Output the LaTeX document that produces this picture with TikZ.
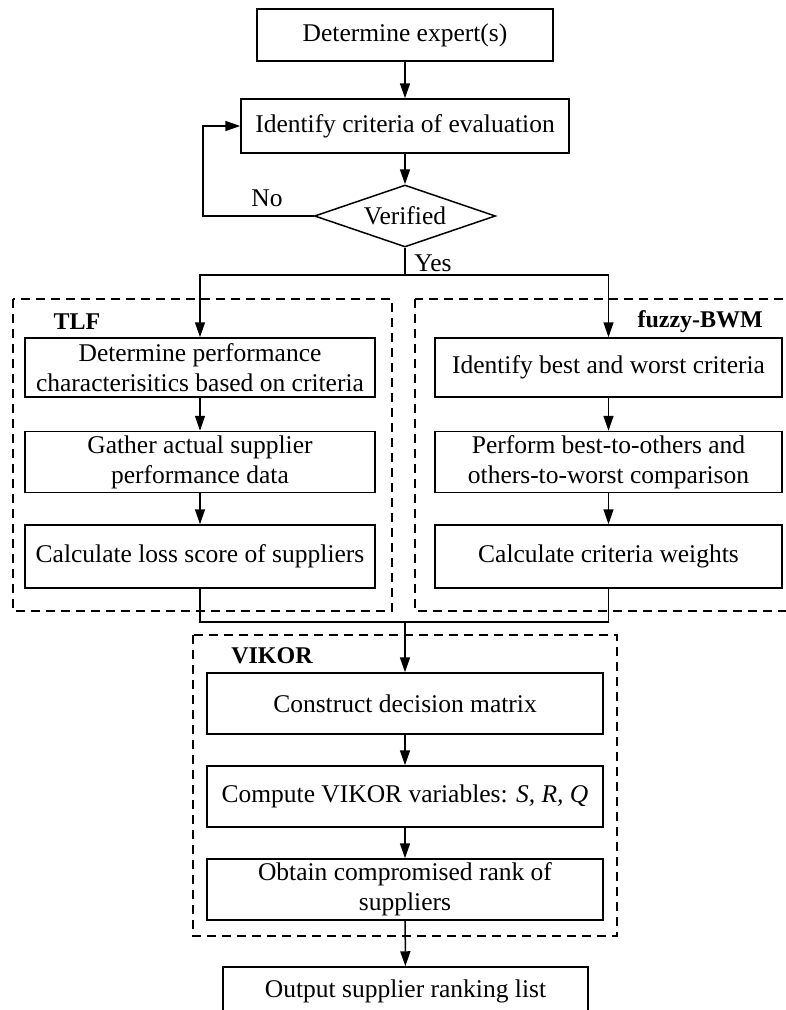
\documentclass[tikz,border=0pt]{standalone}
\usepackage{fontspec}
\setmainfont{Liberation Serif}
\usetikzlibrary{shapes.geometric,arrows.meta}
\begin{document}
\begin{tikzpicture}[x=1pt,y=-1pt,
  every node/.style={font=\fontsize{25.5}{30}\selectfont},
  stepbox/.style={draw,line width=1.5pt,rectangle,inner sep=0pt,align=center},
  grp/.style={draw,line width=1.3pt,dash pattern=on 9pt off 6pt},
  grplabel/.style={font=\fontsize{24}{28}\selectfont\bfseries,inner sep=0pt},
  lbl/.style={inner sep=0pt},
  ln/.style={line width=1.5pt},
  arr/.style={line width=1.5pt,-{Triangle[length=15pt,width=10pt]}},
]
\useasboundingbox (0,0) rectangle (785,1010);
% groups
\draw[grp] (13,299) rectangle (392,611);
\draw[grp] (415,299) rectangle (797,611);
\draw[grp] (193,635) rectangle (617,936);
\node[grplabel] (tlf) at (77,322) {TLF};
\node[grplabel,anchor=east] (bwm) at (763,322) {fuzzy-BWM};
\node[grplabel] (vik) at (272,656) {VIKOR};
% top
\node[stepbox,minimum width=296pt,minimum height=52pt] (b1) at (405,35) {Determine expert(s)};
\node[stepbox,minimum width=328pt,minimum height=54pt] (b2) at (405,126) {Identify criteria of evaluation};
\node[draw,line width=1.5pt,diamond,aspect=2.9,inner sep=0pt,minimum width=181pt,minimum height=62pt] (dia) at (405,216) {Verified};
\node[lbl] (no) at (267,198) {No};
\node[lbl] (yes) at (433,263) {Yes};
% TLF
\node[stepbox,minimum width=350pt,minimum height=59pt] (ta) at (200,367.5) {Determine performance\\characterisitics based on criteria};
\node[stepbox,minimum width=350pt,minimum height=61pt] (tb) at (200,462) {Gather actual supplier\\performance data};
\node[stepbox,minimum width=350pt,minimum height=63pt] (tc) at (200,556.5) {Calculate loss score of suppliers};
% BWM
\node[stepbox,minimum width=347pt,minimum height=59pt] (fa) at (608.5,367.5) {Identify best and worst criteria};
\node[stepbox,minimum width=347pt,minimum height=61pt] (fb) at (608.5,462) {Perform best-to-others and\\others-to-worst comparison};
\node[stepbox,minimum width=347pt,minimum height=63pt] (fc) at (608.5,556.5) {Calculate criteria weights};
% VIKOR
\node[stepbox,minimum width=396pt,minimum height=61pt] (va) at (405,703.5) {Construct decision matrix};
\node[stepbox,minimum width=396pt,minimum height=61pt] (vb) at (405,796.5) {Compute VIKOR variables: \textit{S, R, Q}};
\node[stepbox,minimum width=396pt,minimum height=61pt] (vc) at (405,889.5) {Obtain compromised rank of\\suppliers};
\node[stepbox,minimum width=365pt,minimum height=48pt] (out) at (405.5,991) {Output supplier ranking list};
% coordinates
\coordinate (fbl) at (203,216);
\coordinate (fbt) at (203,126);
\coordinate (split) at (405,275);
\coordinate (merge) at (405,622);
% connectors
\draw[arr] (b1) -- (b2);
\draw[arr] (b2) -- (dia);
\draw[arr] (dia.west) -- (fbl) -- (fbt) -- (b2.west);
\draw[ln] (dia.south) -- (split);
\draw[arr] (split) -| (ta.north);
\draw[arr] (split) -| (fa.north);
\draw[arr] (ta) -- (tb);
\draw[arr] (tb) -- (tc);
\draw[arr] (fa) -- (fb);
\draw[arr] (fb) -- (fc);
\draw[ln] (tc.south) |- (merge);
\draw[ln] (fc.south) |- (merge);
\draw[arr] (merge) -- (va.north);
\draw[arr] (va) -- (vb);
\draw[arr] (vb) -- (vc);
\draw[arr] (vc) -- (out);
\end{tikzpicture}
\end{document}
